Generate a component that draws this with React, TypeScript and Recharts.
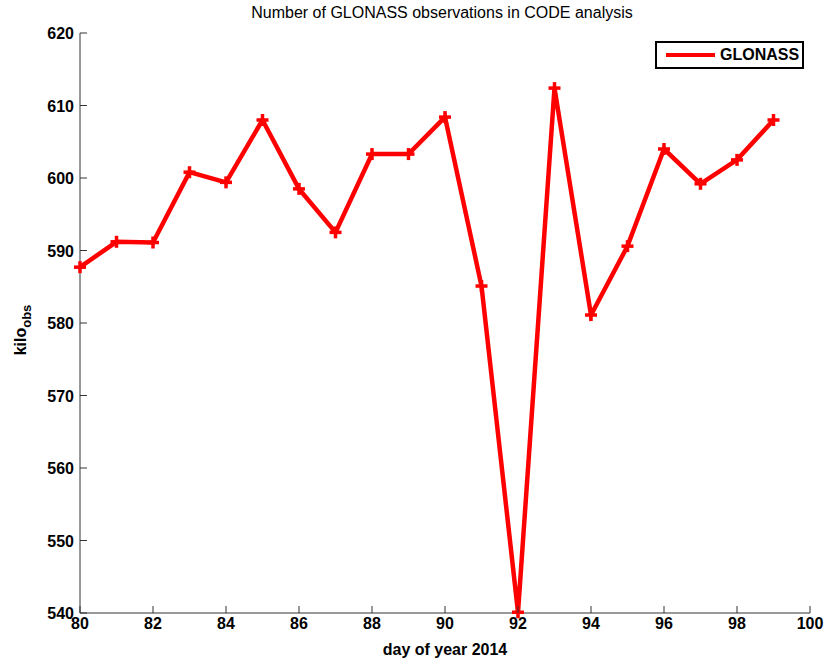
import React from 'react';
import { LineChart, Line, XAxis, YAxis } from 'recharts';

const days = [80, 81, 82, 83, 84, 85, 86, 87, 88, 89, 90, 91, 92, 93, 94, 95, 96, 97, 98, 99];
const glonass = [587.7, 591.2, 591.1, 600.8, 599.4, 608.0, 598.5, 592.5, 603.3, 603.3, 608.4, 585.1, 540.1, 612.4, 581.1, 590.6, 604.0, 599.2, 602.5, 608.0];
const xTicks = [80, 82, 84, 86, 88, 90, 92, 94, 96, 98, 100];
const yTicks = [540, 550, 560, 570, 580, 590, 600, 610, 620];

const data = days.map((d, i) => ({ day: d, glonass: glonass[i] }));

const FONT = '"Liberation Sans", Arial, sans-serif';
const AXIS = '#333';

const XTick = (props: any) => {
  const { x, y, payload } = props;
  return (
    <g>
      <line x1={x} y1={y} x2={x} y2={y - 7} stroke={AXIS} strokeWidth={1} />
      <text x={x} y={y + 16} textAnchor="middle" fontFamily={FONT} fontSize={16} fontWeight="bold" fill="#000">
        {payload.value}
      </text>
    </g>
  );
};

const YTick = (props: any) => {
  const { x, y, payload } = props;
  return (
    <g>
      <line x1={x} y1={y} x2={x + 7} y2={y} stroke={AXIS} strokeWidth={1} />
      <text x={x - 6} y={y + 6} textAnchor="end" fontFamily={FONT} fontSize={16} fontWeight="bold" fill="#000">
        {payload.value}
      </text>
    </g>
  );
};

const PlusDot = (props: any) => {
  const { cx, cy, index } = props;
  if (cx == null || cy == null) return null;
  return (
    <g key={index}>
      <line x1={cx - 6} y1={cy} x2={cx + 6} y2={cy} stroke="#ff0000" strokeWidth={3.5} />
      <line x1={cx} y1={cy - 6} x2={cx} y2={cy + 6} stroke="#ff0000" strokeWidth={3.5} />
    </g>
  );
};

const LegendBox = () => (
  <div
    style={{
      position: 'absolute',
      left: 655,
      top: 41,
      width: 149,
      height: 28,
      border: '2px solid #000',
      background: '#fff',
      boxSizing: 'border-box',
      display: 'flex',
      alignItems: 'center',
      fontFamily: FONT,
      fontSize: 16,
      fontWeight: 'bold',
    }}
  >
    <svg width={63} height={20}>
      <line x1={9} y1={10} x2={58} y2={10} stroke="#ff0000" strokeWidth={4} />
    </svg>
    <span>GLONASS</span>
  </div>
);

const App = () => {
  return (
    <div style={{ position: 'absolute', left: 0, top: 0, width: 826, height: 659, background: '#fff' }}>
      <LineChart width={826} height={659} data={data} margin={{ top: 33, right: 16, bottom: 0, left: 0 }}>
        <text x={442} y={18} textAnchor="middle" fontFamily={FONT} fontSize={16} fill="#000">
          Number of GLONASS observations in CODE analysis
        </text>
        <text
          transform="translate(26, 330) rotate(-90)"
          textAnchor="middle"
          fontFamily={FONT}
          fontSize={16}
          fontWeight="bold"
          fill="#000"
        >
          kilo<tspan dy={5} fontSize={13}>obs</tspan>
        </text>
        <XAxis
          dataKey="day"
          type="number"
          domain={[80, 100]}
          ticks={xTicks}
          height={46}
          tickSize={0}
          tickMargin={0}
          tickLine={false}
          stroke={AXIS}
          tick={<XTick />}
          interval={0}
          label={{ value: 'day of year 2014', position: 'insideBottom', offset: 4, fontFamily: FONT, fontSize: 16, fontWeight: 'bold', fill: '#000' }}
        />
        <YAxis
          type="number"
          domain={[540, 620]}
          ticks={yTicks}
          width={80}
          tickSize={0}
          tickMargin={0}
          tickLine={false}
          stroke={AXIS}
          tick={<YTick />}
          interval={0}
        />
        <Line
          dataKey="glonass"
          name="GLONASS"
          stroke="#ff0000"
          strokeWidth={4.5}
          type="linear"
          dot={<PlusDot />}
          activeDot={false}
          isAnimationActive={false}
        />
      </LineChart>
      <LegendBox />
    </div>
  );
};

export default App;
